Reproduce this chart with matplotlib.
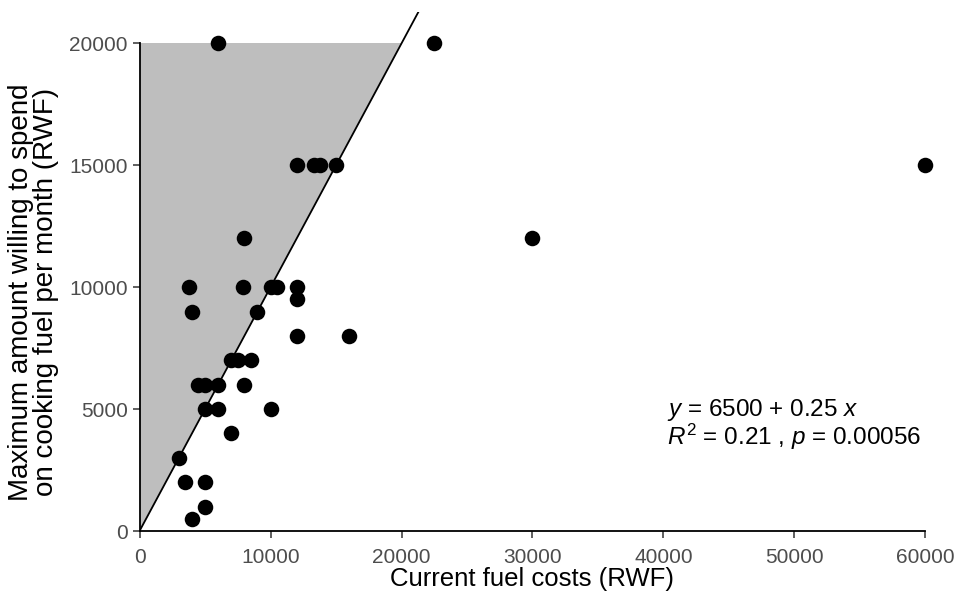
import matplotlib
matplotlib.use("Agg")
import matplotlib.pyplot as plt
from matplotlib.patches import Polygon

plt.rcParams['font.family'] = ['Liberation Sans', 'DejaVu Sans']
plt.rcParams['mathtext.fontset'] = 'custom'
plt.rcParams['mathtext.rm'] = 'Liberation Sans'
plt.rcParams['mathtext.it'] = 'Liberation Sans:italic'

# Data
current_cost = [6000, 22500,
                12000, 13300, 13800, 15000,
                60000,
                8000, 30000,
                3800, 7900, 10000, 10500, 12000,
                12000,
                4000, 9000,
                12000, 16000,
                7000, 7500, 8500,
                4500, 5000, 6000, 8000,
                5000, 6000, 10000,
                7000,
                3000,
                3500, 5000,
                5000,
                4000]
max_willing = [20000, 20000,
               15000, 15000, 15000, 15000,
               15000,
               12000, 12000,
               10000, 10000, 10000, 10000, 10000,
               9500,
               9000, 9000,
               8000, 8000,
               7000, 7000, 7000,
               6000, 6000, 6000, 6000,
               5000, 5000, 5000,
               4000,
               3000,
               2000, 2000,
               1000,
               500]

x_ticks = [0, 10000, 20000, 30000, 40000, 50000, 60000]
y_ticks = [0, 5000, 10000, 15000, 20000]
shade_vertices = [(0, 0), (0, 20000), (20000, 20000)]
line_x = [0, 30000]
line_y = [0, 30000]

fig = plt.figure(figsize=(9.61, 6.03), dpi=100)
ax = fig.add_axes([0.1452, 0.1194, 0.963 - 0.1452, 0.9806 - 0.1194])

ax.add_patch(Polygon(shade_vertices, closed=True, facecolor='#bebebe',
                     edgecolor='none', zorder=1))
ax.plot(line_x, line_y, color='black', lw=1.3, zorder=2)
ax.scatter(current_cost, max_willing, s=125, color='black', zorder=3,
           linewidths=0, clip_on=False)

ax.set_xlim(0, 60000)
ax.set_ylim(0, 21300)
ax.set_xticks(x_ticks)
ax.set_yticks(y_ticks)
ax.set_xticklabels([str(v) for v in x_ticks])
ax.set_yticklabels([str(v) for v in y_ticks])

for s in ['top', 'right']:
    ax.spines[s].set_visible(False)
ax.spines['left'].set_bounds(0, 20000)
ax.spines['bottom'].set_bounds(0, 60000)
for s in ['left', 'bottom']:
    ax.spines[s].set_linewidth(1.3)
    ax.spines[s].set_color('black')

ax.tick_params(axis='both', direction='out', length=5, width=1.1,
               colors='#333333', labelsize=15, labelcolor='#4d4d4d')
ax.tick_params(axis='x', pad=7)
ax.tick_params(axis='y', pad=3.5)

fig.text(0.5541, 0.0395, 'Current fuel costs (RWF)', ha='center', va='center',
         fontsize=18.5, color='black')
fig.text(0.0349, 0.5158,
         'Maximum amount willing to spend\non cooking fuel per month (RWF)',
         ha='center', va='center', rotation=90, fontsize=20, color='black',
         linespacing=0.93)

ax.text(40300, 4950, r'$y$ = 6500 + 0.25 $x$', ha='left', va='center',
        fontsize=17.5, color='black')
ax.text(40300, 3850, r'$R^2$ = 0.21 , $p$ = 0.00056', ha='left', va='center',
        fontsize=17.5, color='black')

fig.savefig('out.png', dpi=100)
